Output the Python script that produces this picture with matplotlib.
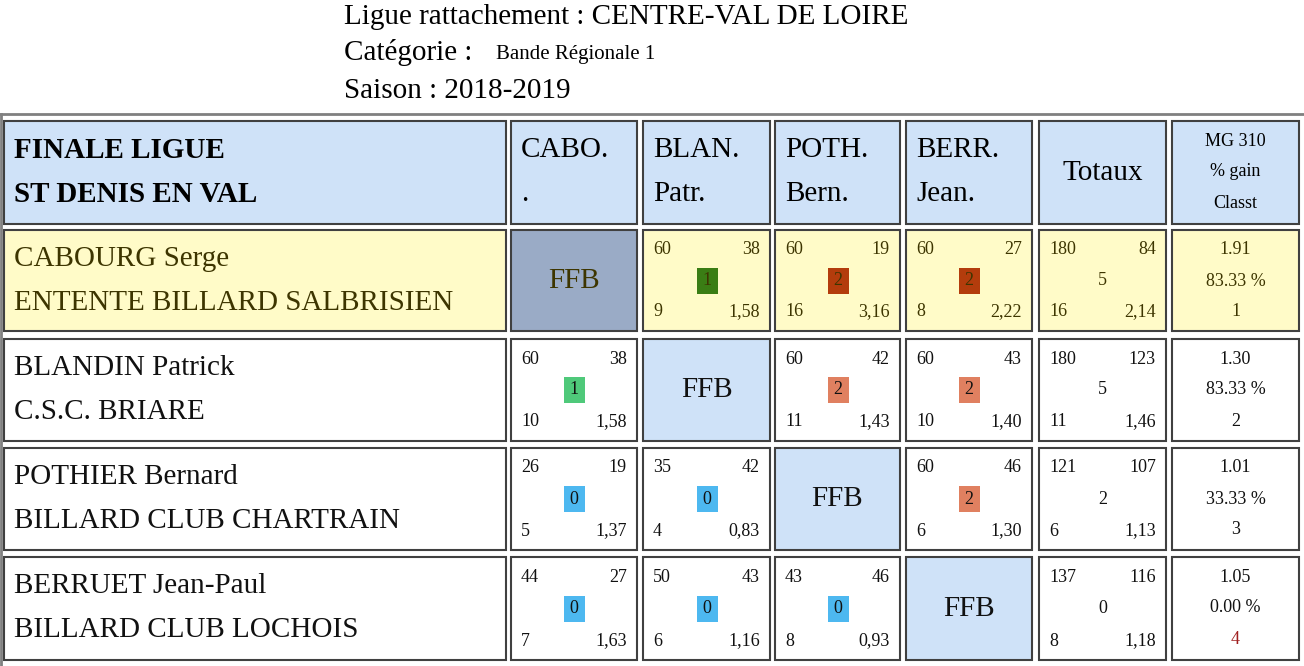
import matplotlib.pyplot as plt
from matplotlib.patches import Rectangle

plt.rcParams['font.family'] = 'Liberation Serif'

# ---- data ----
col_heads = [("CABO.", "."), ("BLAN.", "Patr."), ("POTH.", "Bern."), ("BERR.", "Jean.")]
players = ["CABOURG Serge", "BLANDIN Patrick", "POTHIER Bernard", "BERRUET Jean-Paul"]
clubs = ["ENTENTE BILLARD SALBRISIEN", "C.S.C. BRIARE", "BILLARD CLUB CHARTRAIN", "BILLARD CLUB LOCHOIS"]
# per match: points, opponent points, match points, innings, average (None = FFB)
matches = [
    [None, (60, 38, 1, 9, "1,58"), (60, 19, 2, 16, "3,16"), (60, 27, 2, 8, "2,22")],
    [(60, 38, 1, 10, "1,58"), None, (60, 42, 2, 11, "1,43"), (60, 43, 2, 10, "1,40")],
    [(26, 19, 0, 5, "1,37"), (35, 42, 0, 4, "0,83"), None, (60, 46, 2, 6, "1,30")],
    [(44, 27, 0, 7, "1,63"), (50, 43, 0, 6, "1,16"), (43, 46, 0, 8, "0,93"), None],
]
totals = [(180, 84, 5, 16, "2,14"), (180, 123, 5, 11, "1,46"),
          (121, 107, 2, 6, "1,13"), (137, 116, 0, 8, "1,18")]
mg = ["1.91", "1.30", "1.01", "1.05"]
gain = ["83.33 %", "83.33 %", "33.33 %", "0.00 %"]
rank = ["1", "2", "3", "4"]

# ---- layout (pixels) ----
cols = [(4, 506), (511, 637), (643, 770), (775, 900), (906, 1032), (1039, 1166), (1172, 1299)]
rows = [(121, 224), (230, 331), (339, 441), (448, 550), (557, 660)]
HEAD_BG = '#cfe2f8'
BIG, SMALL = 21, 13
badge_col = {0: '#4db8f0', 1: '#4fc97a', 2: '#e08060'}
badge_col_first = {1: '#3a7d14', 2: '#b33c0c'}

fig = plt.figure(figsize=(13.04, 6.66), dpi=100)
ax = fig.add_axes([0, 0, 1, 1])
ax.set_xlim(0, 1304)
ax.set_ylim(666, 0)
ax.axis('off')

ax.text(344, 17, "Ligue rattachement : CENTRE-VAL DE LOIRE", fontsize=21, va='center')
ax.text(344, 53, "Catégorie :", fontsize=21, va='center')
ax.text(496, 54, "Bande Régionale 1", fontsize=15, va='center')
ax.text(344, 91, "Saison : 2018-2019", fontsize=21, va='center')

# outer table frame
ax.plot([1, 1303], [114, 114], color='#808080', lw=2)
ax.plot([1, 1], [114, 666], color='#808080', lw=2)


def cell(c, r, bg):
    x0, x1 = cols[c]
    y0, y1 = rows[r]
    ax.add_patch(Rectangle((x0, y0), x1 - x0, y1 - y0, facecolor=bg,
                           edgecolor='#404040', lw=1.5))
    return x0, x1, y0, y1


# header row
x0, x1, y0, y1 = cell(0, 0, HEAD_BG)
ax.text(x0 + 10, y0 + 29, "FINALE LIGUE", fontsize=BIG, weight='bold', va='center')
ax.text(x0 + 10, y0 + 73, "ST DENIS EN VAL", fontsize=BIG, weight='bold', va='center')
for i, (a, b) in enumerate(col_heads):
    x0, x1, y0, y1 = cell(i + 1, 0, HEAD_BG)
    ax.text(x0 + 10, y0 + 29, a, fontsize=BIG, va='center')
    ax.text(x0 + 10, y0 + 73, b, fontsize=BIG, va='center')
x0, x1, y0, y1 = cell(5, 0, HEAD_BG)
ax.text((x0 + x1) / 2, (y0 + y1) / 2, "Totaux", fontsize=BIG, ha='center', va='center')
x0, x1, y0, y1 = cell(6, 0, HEAD_BG)
for k, t in enumerate(["MG 310", "% gain", "Classt"]):
    ax.text((x0 + x1) / 2, y0 + 20 + k * 31, t, fontsize=SMALL, ha='center', va='center')


def score_cell(c, r, vals, bg, fg, badge=None):
    x0, x1, y0, y1 = cell(c, r, bg)
    a, b, m, inn, avg = vals
    ax.text(x0 + 10, y0 + 20, str(a), fontsize=SMALL, color=fg, va='center')
    ax.text(x1 - 10, y0 + 20, str(b), fontsize=SMALL, color=fg, va='center', ha='right')
    ax.text(x0 + 10, y1 - 19, str(inn), fontsize=SMALL, color=fg, va='center')
    ax.text(x1 - 10, y1 - 19, avg, fontsize=SMALL, color=fg, va='center', ha='right')
    cx, cy = (x0 + x1) / 2, (y0 + y1) / 2
    if badge:
        ax.add_patch(Rectangle((cx - 10, cy - 13), 21, 26, facecolor=badge, lw=0))
    ax.text(cx, cy, str(m), fontsize=SMALL, color=fg, ha='center', va='center')


for r in range(4):
    first = r == 0
    bg = '#fffbc8' if first else 'white'
    fg = '#3d3500' if first else '#111111'
    x0, x1, y0, y1 = cell(0, r + 1, bg)
    ax.text(x0 + 10, y0 + 29, players[r], fontsize=BIG, color=fg, va='center')
    ax.text(x0 + 10, y0 + 73, clubs[r], fontsize=BIG, color=fg, va='center')
    for c in range(4):
        v = matches[r][c]
        if v is None:
            fx0, fx1, fy0, fy1 = cell(c + 1, r + 1, '#9aabc6' if first else HEAD_BG)
            ax.text((fx0 + fx1) / 2, (fy0 + fy1) / 2, "FFB", fontsize=BIG,
                    color=fg, ha='center', va='center')
        else:
            bc = (badge_col_first if first else badge_col).get(v[2], badge_col[v[2]])
            score_cell(c + 1, r + 1, v, bg, fg, bc)
    score_cell(5, r + 1, totals[r], bg, fg)
    x0, x1, y0, y1 = cell(6, r + 1, bg)
    cx = (x0 + x1) / 2
    ax.text(cx, y0 + 20, mg[r], fontsize=SMALL, color=fg, ha='center', va='center')
    ax.text(cx, y0 + 51, gain[r], fontsize=SMALL, color=fg, ha='center', va='center')
    ax.text(cx, y0 + 82, rank[r], fontsize=SMALL, ha='center', va='center',
            color='#a02020' if r == 3 else fg)

fig.savefig('out.png', dpi=100)
